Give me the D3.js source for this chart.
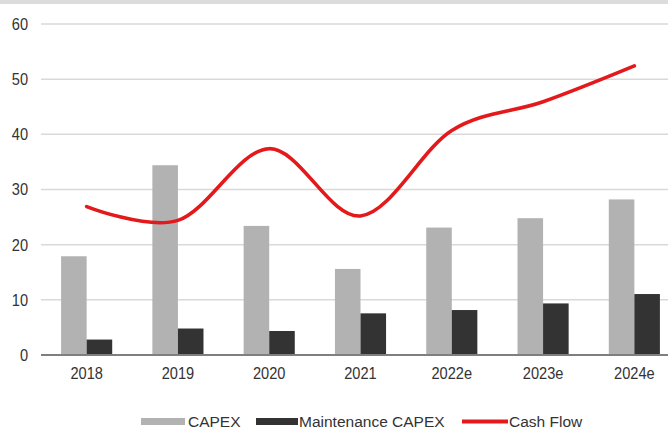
<!DOCTYPE html>
<html>
<head>
<meta charset="utf-8">
<script src="https://cdn.jsdelivr.net/npm/d3@7"></script>
<style>
  html, body { margin: 0; padding: 0; background: #fff; }
  svg { display: block; font-family: "Liberation Sans", Arial, sans-serif; }
</style>
</head>
<body>
<svg id="chart" width="668" height="430"></svg>
<script>
// Categories and series
const years = ["2018", "2019", "2020", "2021", "2022e", "2023e", "2024e"];
const capex = [17.9, 34.4, 23.4, 15.6, 23.1, 24.8, 28.2];
const maintenanceCapex = [2.8, 4.8, 4.35, 7.55, 8.15, 9.35, 11.05];
const cashFlow = [26.9, 24.4, 37.4, 25.2, 40.7, 45.9, 52.4];
const yTicks = [0, 10, 20, 30, 40, 50, 60];
const legendItems = ["CAPEX", "Maintenance CAPEX", "Cash Flow"];

const colors = { capex: "#b2b2b2", maint: "#333333", cash: "#e3191c" };
const textColor = "#333";

const svg = d3.select("#chart");
const W = 668, H = 430;
const plot = { left: 41, right: 680, top: 24, bottom: 355 };

// Thin band across the top edge
svg.append("rect").attr("x", 0).attr("y", 0).attr("width", W).attr("height", 4).attr("fill", "#dcdcdc");

const x = d3.scaleBand().domain(years).range([plot.left, plot.right]).padding(0);
const x1 = d3.scaleBand().domain(["capex", "maint"])
  .range([x.bandwidth() * 0.22, x.bandwidth() * 0.78]).padding(0);
const y = d3.scaleLinear().domain([0, 60]).range([plot.bottom, plot.top]);

// Horizontal gridlines
svg.append("g")
  .selectAll("line")
  .data(yTicks.filter(t => t > 0))
  .join("line")
  .attr("x1", plot.left).attr("x2", W)
  .attr("y1", d => y(d)).attr("y2", d => y(d))
  .attr("stroke", "#d9d9d9").attr("stroke-width", 1.5);

// Axis tick labels use a condensed face: a tall font squeezed horizontally
const squeeze = "scale(0.86,1)";

const yAxis = svg.append("g")
  .attr("transform", `translate(${plot.left},0)`)
  .call(d3.axisLeft(y).tickValues(yTicks).tickSize(0).tickPadding(15).tickFormat(d3.format("d")));
yAxis.select(".domain").remove();
yAxis.selectAll("text")
  .attr("font-size", 17).attr("fill", textColor)
  .attr("font-family", "Liberation Sans, Arial, sans-serif")
  .attr("transform", squeeze);

// Bars
const groups = svg.append("g").selectAll("g")
  .data(years.map((yr, i) => ({ yr, capex: capex[i], maint: maintenanceCapex[i] })))
  .join("g")
  .attr("transform", d => `translate(${x(d.yr)},0)`);

groups.append("rect")
  .attr("x", x1("capex")).attr("width", x1.bandwidth())
  .attr("y", d => y(d.capex)).attr("height", d => y(0) - y(d.capex))
  .attr("fill", colors.capex);

groups.append("rect")
  .attr("x", x1("maint")).attr("width", x1.bandwidth())
  .attr("y", d => y(d.maint)).attr("height", d => y(0) - y(d.maint))
  .attr("fill", colors.maint);

// X axis baseline and labels
svg.append("line")
  .attr("x1", plot.left).attr("x2", W)
  .attr("y1", y(0)).attr("y2", y(0))
  .attr("stroke", "#7f7f7f").attr("stroke-width", 2);

const xAxis = svg.append("g")
  .attr("transform", `translate(0,${y(0)})`)
  .call(d3.axisBottom(x).tickSize(0).tickPadding(12));
xAxis.select(".domain").remove();
xAxis.selectAll("text")
  .attr("font-size", 17).attr("fill", textColor)
  .attr("font-family", "Liberation Sans, Arial, sans-serif")
  .attr("transform", squeeze);

// Cash flow line (smoothed)
const line = d3.line()
  .x((d, i) => x(years[i]) + x.bandwidth() / 2)
  .y(d => y(d))
  .curve(d3.curveCatmullRom.alpha(0));

svg.append("path")
  .datum(cashFlow)
  .attr("d", line)
  .attr("fill", "none")
  .attr("stroke", colors.cash)
  .attr("stroke-width", 3.6)
  .attr("stroke-linecap", "round");

// Legend
const legend = svg.append("g").attr("font-size", 15.5).attr("fill", textColor);
const legendY = 421.5;
const legendPos = [
  { sx: 141, sw: 44, tx: 188 },
  { sx: 256, sw: 42, tx: 299 },
  { sx: 462, sw: 46, tx: 509 }
];
legendItems.forEach((name, i) => {
  const p = legendPos[i];
  if (i < 2) {
    legend.append("rect")
      .attr("x", p.sx).attr("y", legendY - 3.5).attr("width", p.sw).attr("height", 7)
      .attr("fill", i === 0 ? colors.capex : colors.maint);
  } else {
    legend.append("line")
      .attr("x1", p.sx).attr("x2", p.sx + p.sw)
      .attr("y1", legendY).attr("y2", legendY)
      .attr("stroke", colors.cash).attr("stroke-width", 4);
  }
  legend.append("text")
    .attr("x", p.tx).attr("y", legendY).attr("dy", "0.35em")
    .attr("fill", textColor)
    .text(name);
});
</script>
</body>
</html>
